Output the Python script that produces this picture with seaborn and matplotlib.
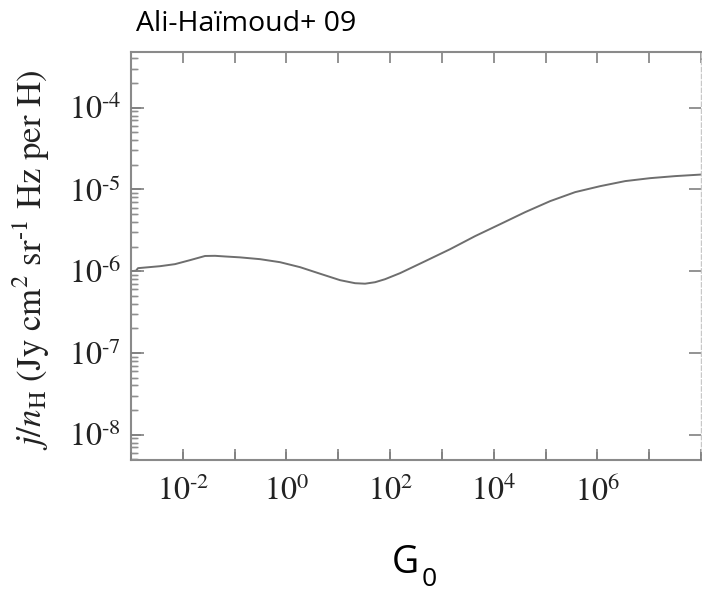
import numpy as np
import pandas as pd
import matplotlib
matplotlib.use("Agg")
import matplotlib.pyplot as plt
import matplotlib.ticker as mticker
import seaborn as sns

# Data (log10 values)
log_g0 = [-3.0, -2.903, -2.865, -2.44, -2.151, -1.861, -1.571, -1.378, -1.185, -0.896,
          -0.51, -0.124, 0.263, 0.649, 1.035, 1.324, 1.517, 1.71, 1.903, 2.193,
          2.676, 3.158, 3.641, 4.124, 4.606, 5.089, 5.571, 6.054, 6.537, 7.019,
          7.502, 8.0]
log_j = [-6.0, -5.994, -5.963, -5.939, -5.914, -5.865, -5.814, -5.812, -5.82, -5.831,
         -5.853, -5.89, -5.951, -6.031, -6.11, -6.147, -6.153, -6.135, -6.098, -6.024,
         -5.878, -5.731, -5.571, -5.425, -5.278, -5.143, -5.033, -4.96, -4.898, -4.862,
         -4.837, -4.818]

df = pd.DataFrame({"G0": np.power(10.0, log_g0), "j": np.power(10.0, log_j)})

sns.set_theme(style="ticks")
plt.rcParams["mathtext.fontset"] = "stix"
plt.rcParams["font.family"] = ["STIXGeneral", "DejaVu Serif"]

fig = plt.figure(figsize=(7.02, 5.94), dpi=100)
ax = fig.add_axes([131/702, 1-460/594, 570/702, 408/594])

sns.lineplot(data=df, x="G0", y="j", ax=ax, color="#6e6e6e", linewidth=1.4,
             sort=False, estimator=None)

ax.set_xscale("log")
ax.set_yscale("log")
ax.set_xlim(1e-3, 1e8)
ax.set_ylim(4.9e-9, 4.8e-4)

def pow_label(k):
    return r"$10^{\text{-}%d}$" % abs(k) if k < 0 else r"$10^{%d}$" % k

# x ticks: every decade, labelled every second decade
ax.xaxis.set_major_locator(mticker.FixedLocator([10.0**k for k in range(-3, 9)]))
def xfmt(v, pos):
    k = int(round(np.log10(v)))
    if k % 2 == 0 and -2 <= k <= 6:
        return pow_label(k)
    return ""
ax.xaxis.set_major_formatter(mticker.FuncFormatter(xfmt))
ax.xaxis.set_minor_locator(mticker.NullLocator())

ax.yaxis.set_major_locator(mticker.FixedLocator([10.0**k for k in range(-8, -3)]))
ax.yaxis.set_major_formatter(mticker.FuncFormatter(lambda v, p: pow_label(int(round(np.log10(v))))))
ax.yaxis.set_minor_locator(mticker.LogLocator(base=10, subs=np.arange(2, 10), numticks=20))
ax.yaxis.set_minor_formatter(mticker.NullFormatter())

ax.tick_params(axis="x", which="major", direction="in", length=8, width=1.2,
               color="#808080", labelsize=23, top=True, bottom=True, pad=12)
ax.tick_params(axis="y", which="major", direction="in", length=9, width=1.2,
               color="#808080", labelsize=23, left=True, right=True, pad=7)
ax.tick_params(axis="y", which="minor", direction="in", length=5, width=1.0,
               color="#909090", left=True, right=False)

for side in ["left", "bottom", "top"]:
    ax.spines[side].set_visible(True)
    ax.spines[side].set_color("#8a8a8a")
    ax.spines[side].set_linewidth(1.5)
ax.spines["right"].set_visible(True)
ax.spines["right"].set_color("#c8c8c8")
ax.spines["right"].set_linewidth(1.0)
ax.spines["right"].set_linestyle((0, (3, 2)))

ax.set_xlabel("")
ax.set_ylabel(r"$j/n_{\rm H}$ (Jy cm$^2$ sr$^{\text{-}1}$ Hz per H)", fontsize=25,
              color="#222222")
ax.yaxis.set_label_coords(-0.139, 0.49)

fig.text(136/702, 1-24/594, "Ali-Haïmoud+ 09", fontsize=20.5, ha="left", va="center",
         family=["Open Sans", "DejaVu Sans"], color="#000000")
fig.text(392/702, 1-573/594, "G", fontsize=27, ha="left", va="baseline",
         family=["Open Sans", "DejaVu Sans"], color="#000000")
fig.text(422/702, 1-586/594, "0", fontsize=19, ha="left", va="baseline",
         family=["Open Sans", "DejaVu Sans"], color="#000000")

# Inward tick marks on the bottom and left edges, taken from the axes' own locators
fig.canvas.draw()
xlo, xhi = ax.get_xlim()
ylo, yhi = ax.get_ylim()
xmaj = [v for v in ax.xaxis.get_majorticklocs() if xlo <= v <= xhi]
ymaj = [v for v in ax.yaxis.get_majorticklocs() if ylo <= v <= yhi]
ymin = [v for v in ax.yaxis.get_minorticklocs() if ylo <= v <= yhi]
ax.vlines(xmaj, 0, 8/408, transform=ax.get_xaxis_transform(), colors="#808080",
          linewidth=1.2, clip_on=False, zorder=2.6)
ax.hlines(ymaj, 0, 10/570, transform=ax.get_yaxis_transform(), colors="#808080",
          linewidth=1.2, clip_on=False, zorder=2.6)
ax.hlines(ymin, 0, 6/570, transform=ax.get_yaxis_transform(), colors="#909090",
          linewidth=1.0, clip_on=False, zorder=2.6)
ax.set_xlim(xlo, xhi)
ax.set_ylim(ylo, yhi)
for lab in ax.get_xticklabels() + ax.get_yticklabels():
    lab.set_color("#222222")

fig.savefig("out.png", dpi=100)
